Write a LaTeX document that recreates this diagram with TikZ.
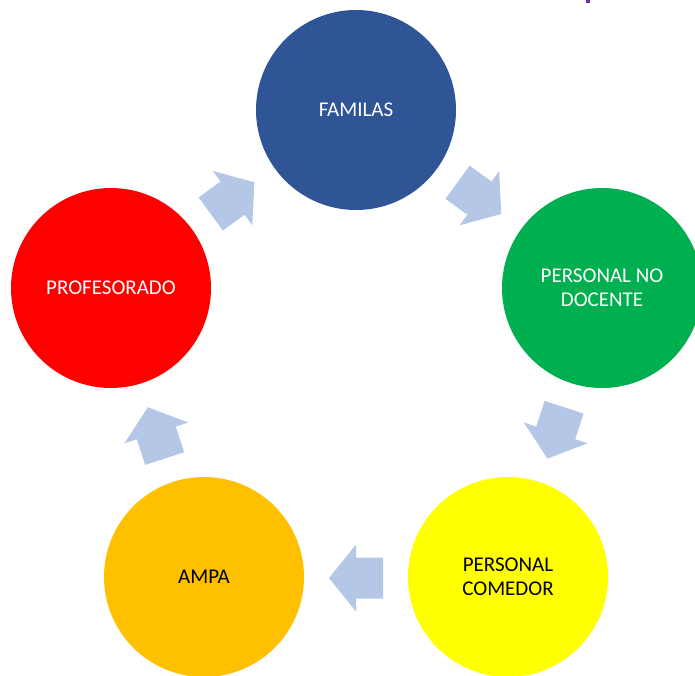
\documentclass[tikz,border=0pt]{standalone}
\usepackage{fontspec}
\setmainfont{Carlito}
\usetikzlibrary{calc}
\definecolor{cblue}{HTML}{2F5597}
\definecolor{cgreen}{HTML}{00B050}
\definecolor{cred}{HTML}{FF0000}
\definecolor{cyellow}{HTML}{FFFF00}
\definecolor{corange}{HTML}{FFC000}
\definecolor{arrowblue}{HTML}{B4C7E7}
\definecolor{cpurple}{HTML}{7030A0}
\tikzset{
  bubble/.style={circle, minimum size=200pt, inner sep=0pt, align=center,
    font=\fontsize{21}{24}\selectfont},
  blockarrow/.pic={\fill[arrowblue] (-27,-20.5) -- (0,-20.5) -- (0,-33.5) -- (27,0)
     -- (0,33.5) -- (0,20.5) -- (-27,20.5) -- cycle;}
}
\begin{document}
\begin{tikzpicture}[x=1pt,y=1pt]
\clip (0,0) rectangle (695,-675);
\fill[white] (0,0) rectangle (695,-675);
\coordinate (c) at (356,-368);
\node[bubble, fill=cblue, text=white] (fam) at (356,-110) {FAMILAS};
\node[bubble, fill=cgreen, text=white] (pnd) at (602,-288) {PERSONAL NO\\DOCENTE};
\node[bubble, fill=cyellow, text=black] (pcom) at (508,-577) {PERSONAL\\COMEDOR};
\node[bubble, fill=corange, text=black] (ampa) at (204,-577) {AMPA};
\node[bubble, fill=cred, text=white] (prof) at (111,-288) {PROFESORADO};
\foreach \a in {54,-18,-90,-162,126}{
  \pic[rotate=\a-90] at ($(c)+(\a:210)$) {blockarrow};
}
\fill[cpurple] (586,0) rectangle (590,-3);
\end{tikzpicture}
\end{document}
